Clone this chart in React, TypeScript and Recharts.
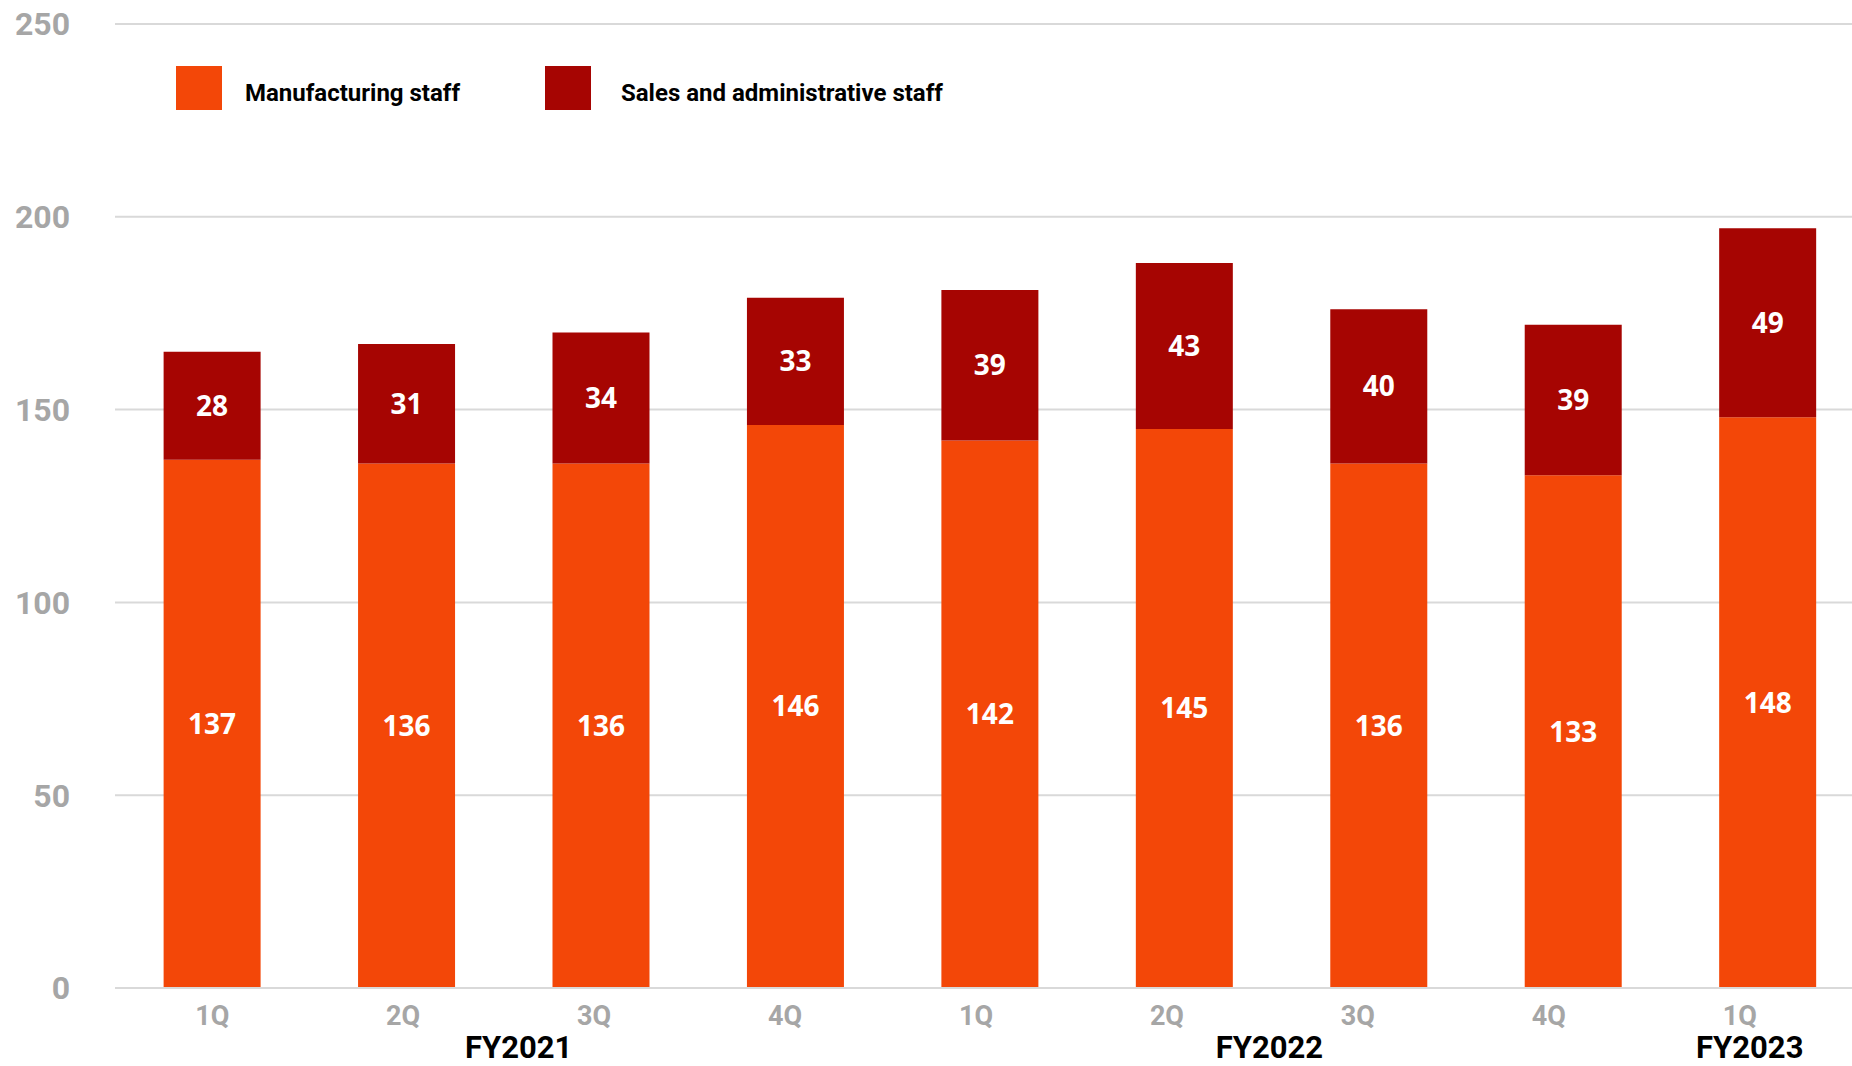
import React from 'react';
import { BarChart, Bar, XAxis, YAxis, CartesianGrid, LabelList } from 'recharts';

const quarters = ['1Q', '2Q', '3Q', '4Q', '1Q', '2Q', '3Q', '4Q', '1Q'];
const fiscalYears = ['', 'FY2021', '', '', '', 'FY2022', '', '', 'FY2023'];
const manufacturing = [137, 136, 136, 146, 142, 145, 136, 133, 148];
const salesAdmin = [28, 31, 34, 33, 39, 43, 40, 39, 49];
const yTicks = [0, 50, 100, 150, 200, 250];
const seriesNames = ['Manufacturing staff', 'Sales and administrative staff'];
const seriesColors = ['#F34708', '#A60502'];

const data = quarters.map((q, i) => ({
  idx: i,
  quarter: q,
  fy: fiscalYears[i],
  manufacturing: manufacturing[i],
  salesAdmin: salesAdmin[i],
}));

const YEAR_DX: Record<number, number> = { 1: 112, 5: 85, 8: -18 };
const QUARTER_SHIFT = -3.5;
const FONT = 'Roboto, "DejaVu Sans", sans-serif';

function QuarterTick(props: any) {
  const { x, y, payload } = props;
  const i = payload.value as number;
  return (
    <g>
      <text x={x + QUARTER_SHIFT * i} y={y + 37} textAnchor="middle" fill="#A6A6A6" fontFamily={FONT} fontWeight={700} fontSize={27}>
        {quarters[i]}
      </text>
      {fiscalYears[i] ? (
        <text x={x + (YEAR_DX[i] ?? 0)} y={y + 70} textAnchor="middle" fill="#000000" fontFamily={FONT} fontWeight={700} fontSize={31}>
          {fiscalYears[i]}
        </text>
      ) : null}
    </g>
  );
}

function LegendOverlay() {
  const items = [
    { sq: 176, tx: 245 },
    { sq: 545, tx: 621 },
  ];
  return (
    <>
      {items.map((it, i) => (
        <React.Fragment key={i}>
          <div style={{ position: 'absolute', left: it.sq, top: 66, width: 46, height: 44, background: seriesColors[i] }} />
          <div
            style={{
              position: 'absolute',
              left: it.tx,
              top: 71,
              height: 44,
              lineHeight: '44px',
              fontFamily: FONT,
              fontWeight: 700,
              fontSize: 24,
              color: '#000',
              whiteSpace: 'nowrap',
            }}
          >
            {seriesNames[i]}
          </div>
        </React.Fragment>
      ))}
    </>
  );
}

export default function App() {
  return (
    <div style={{ position: 'fixed', left: 0, top: 0, width: 1852, height: 1066, overflow: 'hidden', background: '#fff' }}>
      <BarChart
        width={1865}
        height={1066}
        data={data}
        margin={{ top: 24, right: 0, bottom: 0, left: 0 }}
        barCategoryGap="25%"
      >
        <CartesianGrid vertical={false} stroke="#D9D9D9" strokeWidth={2} />
        <XAxis
          dataKey="idx"
          type="category"
          height={78}
          tickLine={false}
          tickSize={0}
          tickMargin={0}
          axisLine={{ stroke: '#D9D9D9', strokeWidth: 2 }}
          tick={<QuarterTick />}
          interval={0}
        />
        <YAxis
          width={115}
          domain={[0, 250]}
          ticks={yTicks}
          axisLine={false}
          tickLine={false}
          tickSize={0}
          tickMargin={45}
          tick={{ fill: '#A6A6A6', fontFamily: FONT, fontWeight: 700, fontSize: 32 }}
        />
        <Bar dataKey="manufacturing" stackId="a" fill={seriesColors[0]} isAnimationActive={false} name={seriesNames[0]}>
          <LabelList dataKey="manufacturing" position="center" fill="#FFFFFF" fontFamily='"Open Sans", sans-serif' fontWeight={700} fontSize={28} />
        </Bar>
        <Bar dataKey="salesAdmin" stackId="a" fill={seriesColors[1]} isAnimationActive={false} name={seriesNames[1]}>
          <LabelList dataKey="salesAdmin" position="center" fill="#FFFFFF" fontFamily='"Open Sans", sans-serif' fontWeight={700} fontSize={28} />
        </Bar>
      </BarChart>
      <LegendOverlay />
    </div>
  );
}
